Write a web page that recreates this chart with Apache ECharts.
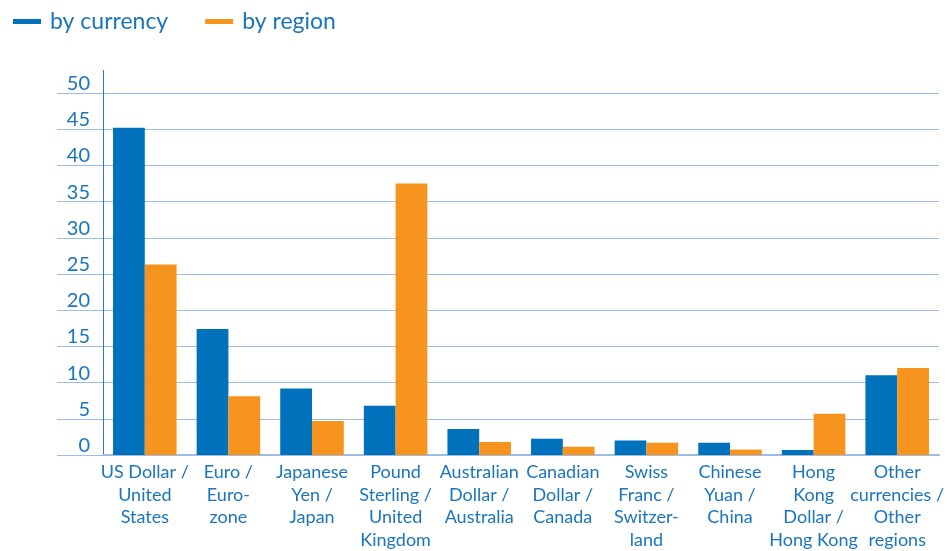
<!DOCTYPE html>
<html><head><meta charset="utf-8">
<script src="https://cdn.jsdelivr.net/npm/echarts@6/dist/echarts.min.js"></script>
<style>html,body{margin:0;padding:0;background:#fff}#c{width:947px;height:551px}</style>
</head><body><div id="c"></div>
<script>
const categories = [
  'US Dollar /\nUnited\nStates',
  'Euro /\nEuro-\nzone',
  'Japanese\nYen /\nJapan',
  'Pound\nSterling /\nUnited\nKingdom',
  'Australian\nDollar /\nAustralia',
  'Canadian\nDollar /\nCanada',
  'Swiss\nFranc /\nSwitzer-\nland',
  'Chinese\nYuan /\nChina',
  'Hong\nKong\nDollar /\nHong Kong',
  'Other\ncurrencies /\nOther\nregions'
];
const byCurrency = [45.2, 17.4, 9.2, 6.8, 3.6, 2.25, 2.0, 1.7, 0.7, 11.0];
const byRegion   = [26.3, 8.1, 4.7, 37.5, 1.8, 1.15, 1.7, 0.75, 5.7, 12.0];
const seriesNames = ['by currency', 'by region'];

const FONT = 'Lato';
const TXT = '#1b75bc';
const GRID = '#9dbde6';
const chart = echarts.init(document.getElementById('c'), null, {renderer: 'canvas'});
chart.setOption({
  animation: false,
  textStyle: {fontFamily: FONT},
  legend: {
    data: seriesNames,
    left: 13, top: 10, padding: 0,
    icon: 'rect', itemWidth: 28, itemHeight: 5, itemGap: 37,
    textStyle: {fontSize: 23, color: TXT, fontFamily: FONT, padding: [0, 0, 0, 4]}
  },
  grid: {left: 103, right: 5, top: 93, bottom: 95, containLabel: false},
  xAxis: {
    type: 'category', data: categories,
    axisLine: {show: true, lineStyle: {color: GRID, width: 2}},
    axisTick: {show: false},
    axisLabel: {interval: 0, color: TXT, fontSize: 18, lineHeight: 22.5, margin: 6, fontFamily: FONT}
  },
  yAxis: {
    type: 'value', min: 0, max: 50, interval: 5,
    axisLine: {show: true, lineStyle: {color: '#2f78bd', width: 1}},
    axisTick: {show: true, length: 46, lineStyle: {color: GRID, width: 1}},
    splitLine: {show: true, lineStyle: {color: GRID, width: 1}},
    axisLabel: {color: TXT, fontSize: 20, lineHeight: 19, margin: 13, verticalAlign: 'bottom', fontFamily: FONT}
  },
  graphic: [{
    type: 'line', shape: {x1: 103.5, y1: 70, x2: 103.5, y2: 93},
    style: {stroke: '#2f78bd', lineWidth: 1}, silent: true
  }],
  series: [
    {name: seriesNames[0], type: 'bar', data: byCurrency, itemStyle: {color: '#0071bb'},
     barGap: '0%', barCategoryGap: '24%'},
    {name: seriesNames[1], type: 'bar', data: byRegion, itemStyle: {color: '#f7941d'},
     barGap: '0%', barCategoryGap: '24%'}
  ]
});
</script></body></html>
